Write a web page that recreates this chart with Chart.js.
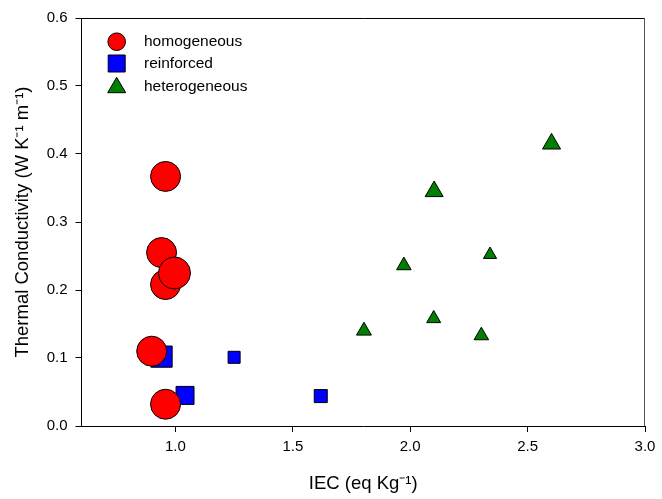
<!DOCTYPE html>
<html>
<head>
<meta charset="utf-8">
<script src="https://cdn.jsdelivr.net/npm/chart.js@4.4.1/dist/chart.umd.min.js"></script>
<style>
  html, body { margin: 0; padding: 0; background: #fff; }
  #wrap { width: 662px; height: 499px; }
</style>
</head>
<body>
<div id="wrap"><canvas id="myChart" width="662" height="499"></canvas></div>
<script>
// data
var homogeneousX = [0.958, 0.941, 0.958, 0.996, 0.899, 0.958];
var homogeneousY = [0.367, 0.255, 0.208, 0.225, 0.110, 0.032];

var reinforcedX = [0.941, 1.041, 1.250, 1.619];
var reinforcedY = [0.102, 0.045, 0.101, 0.044];

var heterogeneousX = [2.602, 2.102, 1.973, 2.340, 1.803, 2.100, 2.303];
var heterogeneousY = [0.415, 0.345, 0.236, 0.252, 0.140, 0.158, 0.133];

var xTicks = [1.0, 1.5, 2.0, 2.5, 3.0];
var yTicks = [0.0, 0.1, 0.2, 0.3, 0.4, 0.5, 0.6];

var seriesNames = ['homogeneous', 'reinforced', 'heterogeneous'];

function toPoints(xs, ys) {
    return xs.map(function(x, i) { return { x: x, y: ys[i] }; });
}

var FONT = '"Liberation Sans", Arial, sans-serif';

// legend sits inside the plot, top left
var insideLegend = {
    id: 'insideLegend',
    afterDraw: function(chart) {
        var ctx = chart.ctx;
        var area = chart.chartArea;
        ctx.save();

        // top and right frame lines
        ctx.lineWidth = 1;
        ctx.strokeStyle = '#000';
        ctx.beginPath();
        ctx.moveTo(area.left, area.top + 0.5);
        ctx.lineTo(area.right, area.top + 0.5);
        ctx.stroke();
        ctx.strokeStyle = '#555';
        ctx.beginPath();
        ctx.moveTo(area.right - 0.5, area.top);
        ctx.lineTo(area.right - 0.5, area.bottom);
        ctx.stroke();

        var sx = 116.7, tx = 144;
        var rows = [41.7, 63.5, 86.5];
        ctx.strokeStyle = '#000';
        ctx.lineWidth = 1;

        // circle
        ctx.fillStyle = '#ff0000';
        ctx.beginPath();
        ctx.arc(sx, rows[0], 8.8, 0, Math.PI * 2);
        ctx.fill();
        ctx.stroke();

        // square
        ctx.fillStyle = '#0000ff';
        ctx.beginPath();
        ctx.rect(sx - 8.5, rows[1] - 8.5, 17, 17);
        ctx.fill();
        ctx.stroke();

        // triangle
        ctx.fillStyle = '#008000';
        ctx.beginPath();
        ctx.moveTo(sx, rows[2] - 9.2);
        ctx.lineTo(sx + 9, rows[2] + 6.2);
        ctx.lineTo(sx - 9, rows[2] + 6.2);
        ctx.closePath();
        ctx.fill();
        ctx.stroke();

        ctx.fillStyle = '#000';
        ctx.font = '15.5px ' + FONT;
        ctx.textBaseline = 'middle';
        ctx.textAlign = 'left';
        seriesNames.forEach(function(name, i) {
            ctx.fillText(name, tx, rows[i]);
        });
        ctx.restore();
    }
};

var ctx = document.getElementById('myChart').getContext('2d');
var myChart = new Chart(ctx, {
    type: 'scatter',
    data: {
        datasets: [
            {
                label: seriesNames[0],
                data: toPoints(homogeneousX, homogeneousY),
                pointStyle: 'circle',
                pointRadius: [15, 15, 15, 16, 15, 15],
                backgroundColor: '#ff0000',
                borderColor: '#000',
                borderWidth: 1
            },
            {
                label: seriesNames[1],
                data: toPoints(reinforcedX, reinforcedY),
                pointStyle: 'rect',
                pointRadius: [15, 12.7, 8.5, 9.2],
                backgroundColor: '#0000ff',
                borderColor: '#000',
                borderWidth: 1
            },
            {
                label: seriesNames[2],
                data: toPoints(heterogeneousX, heterogeneousY),
                pointStyle: 'triangle',
                pointRadius: [10.4, 10.4, 8.4, 7.6, 8.6, 8.1, 8.4],
                backgroundColor: '#008000',
                borderColor: '#000',
                borderWidth: 1
            }
        ]
    },
    options: {
        responsive: false,
        animation: false,
        layout: {
            padding: { top: 18, right: 14, bottom: 0, left: 8 }
        },
        plugins: {
            legend: { display: false },
            tooltip: { enabled: false }
        },
        scales: {
            x: {
                type: 'linear',
                min: 0.6,
                max: 3.0,
                afterBuildTicks: function(scale) {
                    scale.ticks = xTicks.map(function(v) { return { value: v }; });
                },
                afterFit: function(scale) { scale.height = 73; },
                grid: {
                    display: true,
                    drawOnChartArea: false,
                    drawTicks: true,
                    tickLength: 6,
                    color: '#000'
                },
                border: { display: true, color: '#000', width: 1 },
                ticks: {
                    color: '#000',
                    font: { family: FONT, size: 15 },
                    padding: 6,
                    maxRotation: 0,
                    callback: function(v) { return Number(v).toFixed(1); }
                },
                title: {
                    display: true,
                    text: 'IEC (eq Kg\u207B\u00B9)',
                    color: '#000',
                    font: { family: FONT, size: 18.5 },
                    padding: { top: 6 }
                }
            },
            y: {
                type: 'linear',
                min: 0,
                max: 0.6,
                afterBuildTicks: function(scale) {
                    scale.ticks = yTicks.map(function(v) { return { value: v }; });
                },
                afterFit: function(scale) { scale.width = 73.5; },
                grid: {
                    display: true,
                    drawOnChartArea: false,
                    drawTicks: true,
                    tickLength: 6,
                    color: '#000'
                },
                border: { display: true, color: '#000', width: 1 },
                ticks: {
                    color: '#000',
                    font: { family: FONT, size: 15 },
                    padding: 8,
                    callback: function(v) { return Number(v).toFixed(1); }
                },
                title: {
                    display: true,
                    text: 'Thermal Conductivity (W K\u207B\u00B9 m\u207B\u00B9)',
                    color: '#000',
                    font: { family: FONT, size: 18.5 },
                    padding: { bottom: 4 }
                }
            }
        }
    },
    plugins: [insideLegend]
});
</script>
</body>
</html>
